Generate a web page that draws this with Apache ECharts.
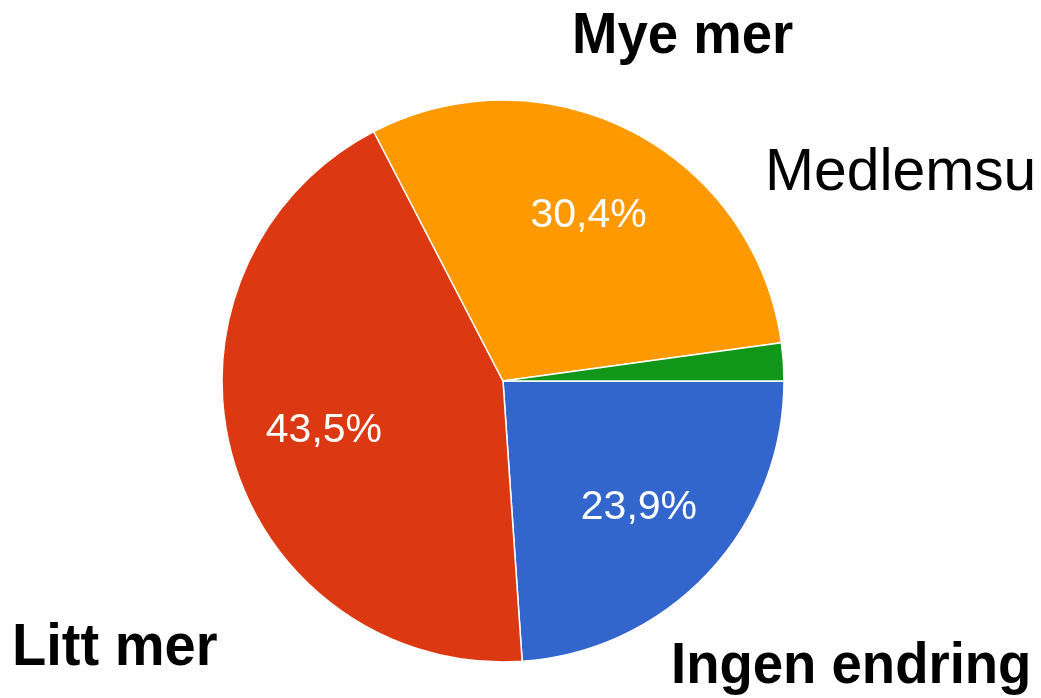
<!DOCTYPE html>
<html>
<head>
<meta charset="utf-8">
<script src="https://cdn.jsdelivr.net/npm/echarts@6/dist/echarts.min.js"></script>
<style>
html,body{margin:0;padding:0;background:#fff;}
#c{width:1041px;height:698px;}
</style>
</head>
<body>
<div id="c"></div>
<script>
// Data (counts out of 46 respondents -> 23,9% / 43,5% / 30,4% / 2,2%)
const categories = ['Ingen endring', 'Litt mer', 'Mye mer', 'Medlemsu'];
const values = [11, 20, 14, 1];
const colors = ['#3366cc', '#dc3912', '#ff9900', '#109618'];

const chart = echarts.init(document.getElementById('c'), null, {renderer: 'canvas'});

const pieData = categories.map((c, i) => ({name: c, value: values[i], itemStyle: {color: colors[i]}}));
const labelData = categories.map((c, i) => ({name: c, value: values[i]}));

function fmt(p) {
  if (p.percent < 5) return '';
  return p.percent.toFixed(1).replace('.', ',') + '%';
}

chart.setOption({
  animation: false,
  backgroundColor: '#ffffff',
  series: [
    {
      type: 'pie',
      center: [503, 381],
      radius: [0, 281],
      startAngle: 0,
      clockwise: true,
      silent: true,
      avoidLabelOverlap: false,
      label: {show: false},
      labelLine: {show: false},
      itemStyle: {borderColor: '#ffffff', borderWidth: 1.5},
      data: pieData
    },
    {
      type: 'pie',
      center: [503, 381],
      radius: [0, 366],
      startAngle: 0,
      clockwise: true,
      silent: true,
      avoidLabelOverlap: false,
      itemStyle: {color: 'rgba(0,0,0,0)', borderWidth: 0},
      label: {
        show: true,
        position: 'inside',
        formatter: fmt,
        color: '#ffffff',
        fontFamily: 'Liberation Sans, Arial, sans-serif',
        fontSize: 41
      },
      labelLine: {show: false},
      data: labelData
    }
  ],
  graphic: [
    {type: 'text', left: 572, top: 8, scaleX: 0.94, style: {text: 'Mye mer', font: 'bold 58px "Liberation Sans", Arial, sans-serif', fill: '#000'}},
    {type: 'text', left: 765, top: 143, scaleX: 0.98, style: {text: 'Medlemsu', font: '60px "Liberation Sans", Arial, sans-serif', fill: '#000'}},
    {type: 'text', left: 12, top: 619, scaleX: 0.95, style: {text: 'Litt mer', font: 'bold 59px "Liberation Sans", Arial, sans-serif', fill: '#000'}},
    {type: 'text', left: 671, top: 638, scaleX: 0.94, style: {text: 'Ingen endring', font: 'bold 58px "Liberation Sans", Arial, sans-serif', fill: '#000'}}
  ]
});
</script>
</body>
</html>
